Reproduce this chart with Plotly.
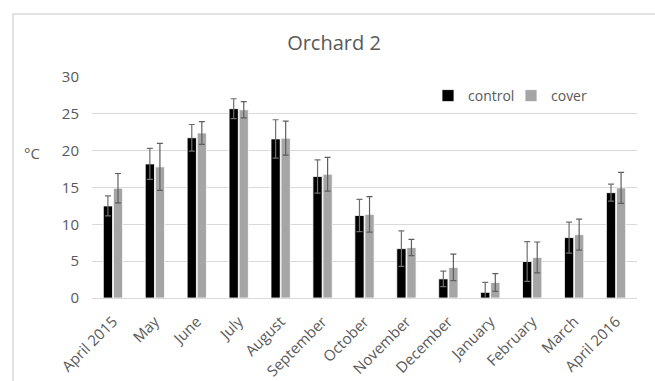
import plotly.graph_objects as go

months = ["April 2015", "May", "June", "July", "August", "September", "October",
          "November", "December", "January", "February", "March", "April 2016"]
control = [12.5, 18.2, 21.75, 25.7, 21.6, 16.5, 11.2, 6.7, 2.6, 0.77, 4.95, 8.2, 14.3]
control_err = [1.35, 2.1, 1.8, 1.35, 2.6, 2.25, 2.2, 2.4, 1.05, 1.35, 2.7, 2.1, 1.15]
cover = [14.9, 17.8, 22.4, 25.55, 21.7, 16.8, 11.35, 6.85, 4.15, 2.1, 5.5, 8.6, 14.95]
cover_err = [2.0, 3.2, 1.55, 1.1, 2.3, 2.3, 2.4, 1.1, 1.8, 1.2, 2.1, 2.1, 2.1]
y_ticks = [0, 5, 10, 15, 20, 25, 30]

FONT = "Open Sans"
GREY_TXT = "#595959"

fig = go.Figure()
fig.add_trace(go.Bar(
    x=months, y=control, name="control",
    marker=dict(color="#000000", line=dict(color="white", width=0.8)),
    error_y=dict(type="data", array=control_err, visible=True,
                 color="#6f6f6f", thickness=1.2, width=3),
))
fig.add_trace(go.Bar(
    x=months, y=cover, name="cover",
    marker=dict(color="#A5A5A5", line=dict(color="white", width=0.8)),
    error_y=dict(type="data", array=cover_err, visible=True,
                 color="#5f5f5f", thickness=1.2, width=3),
))

L, R, T, B = 92, 18, 77, 83
W, H = 655, 381
pw, ph = W - L - R, H - T - B

def px_x(x):
    return (x - L) / pw

def px_y(y):
    return (H - B - y) / ph

fig.update_layout(
    width=W, height=H,
    margin=dict(l=L, r=R, t=T, b=B, autoexpand=False),
    paper_bgcolor="white", plot_bgcolor="white",
    barmode="group", bargap=0.52, bargroupgap=0.08,
    font=dict(family=FONT, color=GREY_TXT, size=15),
    title=dict(text="Orchard 2", xref="container", x=334 / W, xanchor="center",
               yref="container", y=1 - 43 / H, yanchor="middle",
               font=dict(family=FONT, size=20, color=GREY_TXT)),
    legend=dict(orientation="h", x=px_x(428), xanchor="left",
                y=px_y(96), yanchor="middle",
                font=dict(family=FONT, size=14, color=GREY_TXT),
                bgcolor="rgba(0,0,0,0)", itemwidth=30, traceorder="normal",
                entrywidth=38, entrywidthmode="pixels"),
    showlegend=True,
    xaxis=dict(tickangle=-45, showgrid=False, showline=True,
               linecolor="#D9D9D9", linewidth=1, automargin=False,
               ticklabelstandoff=8,
               tickfont=dict(family=FONT, size=15, color=GREY_TXT),
               ticks="", fixedrange=True),
    yaxis=dict(range=[0, 30], tickvals=y_ticks, showgrid=True,
               gridcolor="#D9D9D9", gridwidth=1, zeroline=False,
               showline=False, ticks="", ticklabelstandoff=12, automargin=False,
               tickfont=dict(family=FONT, size=15, color=GREY_TXT)),
    annotations=[dict(text="°C", xref="paper", yref="paper",
                      x=px_x(32), y=px_y(153), xanchor="center",
                      yanchor="middle", showarrow=False,
                      font=dict(family=FONT, size=15, color=GREY_TXT))],
    shapes=[dict(type="rect", xref="paper", yref="paper",
                 x0=px_x(13), x1=px_x(W + 10), y0=px_y(H + 10), y1=px_y(14),
                 line=dict(color="#D9D9D9", width=1.5), layer="below")],
)

fig.write_html("out.html", config={"displayModeBar": False},
               post_script="document.body.style.margin='0';")
